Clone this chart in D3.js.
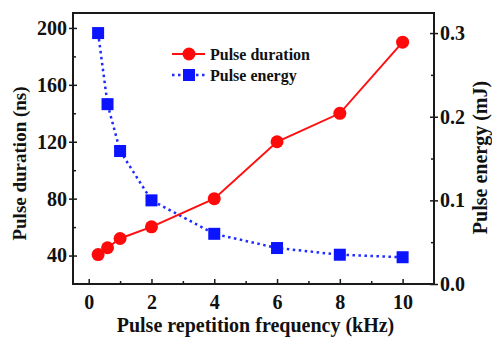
<!DOCTYPE html>
<html><head><meta charset="utf-8">
<script src="https://cdn.jsdelivr.net/npm/d3@7"></script>
<style>
html,body{margin:0;padding:0;background:#fff;}
text{font-family:"Liberation Serif","Times New Roman",serif;font-weight:bold;fill:#111;}
</style></head>
<body><svg id="c" width="492" height="340"></svg>
<script>
const freq = [0.3, 0.6, 1, 2, 4, 6, 8, 10];
const duration = [40.7, 45.5, 52, 60.2, 80, 120, 140, 190];
const energy = [0.300, 0.215, 0.159, 0.100, 0.060, 0.043, 0.035, 0.032];
const xTicks = [0, 2, 4, 6, 8, 10];
const xMinor = [1, 3, 5, 7, 9];
const yLTicks = [40, 80, 120, 160, 200];
const yLMinor = [60, 100, 140, 180];
const yRTicks = [0.0, 0.1, 0.2, 0.3];
const yRMinor = [0.05, 0.15, 0.25];

const L = 73, R = 434, T = 13, B = 284;
const svg = d3.select("#c");
const x = d3.scaleLinear().domain([-0.5, 11]).range([L, R]);
const yL = d3.scaleLinear().domain([20, 210.5]).range([B, T]);
const yR = d3.scaleLinear().domain([0, 0.324]).range([B, T]);

const ink = "#1a1a1a";
svg.append("rect").attr("x", L).attr("y", T).attr("width", R - L).attr("height", B - T)
  .attr("fill", "none").attr("stroke", ink).attr("stroke-width", 2);

const gL = svg.append("g").attr("transform", `translate(${L},0)`)
  .call(d3.axisLeft(yL).tickValues(yLTicks).tickSize(4).tickPadding(2).tickFormat(d3.format("d")));
gL.selectAll(".tick line").attr("x2", 4).attr("x1", -4).attr("stroke", ink).attr("stroke-width", 1.5);
const gLm = svg.append("g").attr("transform", `translate(${L},0)`)
  .call(d3.axisRight(yL).tickValues(yLMinor).tickSize(3).tickFormat(""));
const gR = svg.append("g").attr("transform", `translate(${R},0)`)
  .call(d3.axisRight(yR).tickValues(yRTicks).tickSize(4).tickPadding(2).tickFormat(d3.format(".1f")));
gR.selectAll(".tick line").attr("x1", -4).attr("x2", 4).attr("stroke", ink).attr("stroke-width", 1.5);
const gRm = svg.append("g").attr("transform", `translate(${R},0)`)
  .call(d3.axisLeft(yR).tickValues(yRMinor).tickSize(3).tickFormat(""));
const gB = svg.append("g").attr("transform", `translate(0,${B})`)
  .call(d3.axisBottom(x).tickValues(xTicks).tickSize(0).tickPadding(11).tickFormat(d3.format("d")));
gB.selectAll(".tick line").attr("y1", 0).attr("y2", -5).attr("stroke", ink).attr("stroke-width", 1.5);
const gBm = svg.append("g").attr("transform", `translate(0,${B})`)
  .call(d3.axisTop(x).tickValues(xMinor).tickSize(3).tickFormat(""));

[gL, gLm, gR, gRm, gB, gBm].forEach(g => {
  g.select(".domain").remove();
  g.selectAll("text").attr("font-size", 20).attr("fill", "#111")
    .attr("font-family", '"Liberation Serif",serif').attr("font-weight", "bold");
});
[gLm, gRm, gBm].forEach(g => g.selectAll(".tick line").attr("stroke", ink).attr("stroke-width", 1.5));

svg.append("text").attr("x", (L + R) / 2 + 2).attr("y", 332).attr("text-anchor", "middle")
  .attr("font-size", 20).text("Pulse repetition frequency (kHz)");
svg.append("text").attr("transform", `translate(26,${(T + B) / 2 + 15}) rotate(-90)`).attr("text-anchor", "middle")
  .attr("font-size", 19).text("Pulse duration (ns)");
svg.append("text").attr("transform", `translate(487,${(T + B) / 2 + 9}) rotate(-90)`).attr("text-anchor", "middle")
  .attr("font-size", 20).text("Pulse energy (mJ)");

const dur = freq.map((f, i) => [f, duration[i]]);
const en = freq.map((f, i) => [f, energy[i]]);

svg.append("path").datum(en)
  .attr("d", d3.line().x(d => x(d[0])).y(d => yR(d[1])))
  .attr("fill", "none").attr("stroke", "#1f2bff").attr("stroke-width", 2.5)
  .attr("stroke-dasharray", "2.5,3.5");
svg.selectAll(".sq").data(en).enter().append("rect")
  .attr("x", d => x(d[0]) - 6).attr("y", d => yR(d[1]) - 6)
  .attr("width", 12).attr("height", 12).attr("fill", "#0a14ff");

svg.append("path").datum(dur)
  .attr("d", d3.line().x(d => x(d[0])).y(d => yL(d[1])))
  .attr("fill", "none").attr("stroke", "#ff1010").attr("stroke-width", 2);
svg.selectAll(".ci").data(dur).enter().append("circle")
  .attr("cx", d => x(d[0])).attr("cy", d => yL(d[1])).attr("r", 6.5).attr("fill", "#ff0a0a");

const lg = svg.append("g");
lg.append("line").attr("x1", 172).attr("x2", 205).attr("y1", 54).attr("y2", 54)
  .attr("stroke", "#ff1010").attr("stroke-width", 2);
lg.append("circle").attr("cx", 189).attr("cy", 54).attr("r", 6.5).attr("fill", "#ff0a0a");
lg.append("text").attr("x", 210).attr("y", 59.5).attr("font-size", 16).text("Pulse duration");
lg.append("line").attr("x1", 172).attr("x2", 205).attr("y1", 75).attr("y2", 75)
  .attr("stroke", "#1f2bff").attr("stroke-width", 2.5).attr("stroke-dasharray", "2.5,3.5");
lg.append("rect").attr("x", 183).attr("y", 69).attr("width", 12).attr("height", 12).attr("fill", "#0a14ff");
lg.append("text").attr("x", 210).attr("y", 80.5).attr("font-size", 16).text("Pulse energy");
</script></body></html>
